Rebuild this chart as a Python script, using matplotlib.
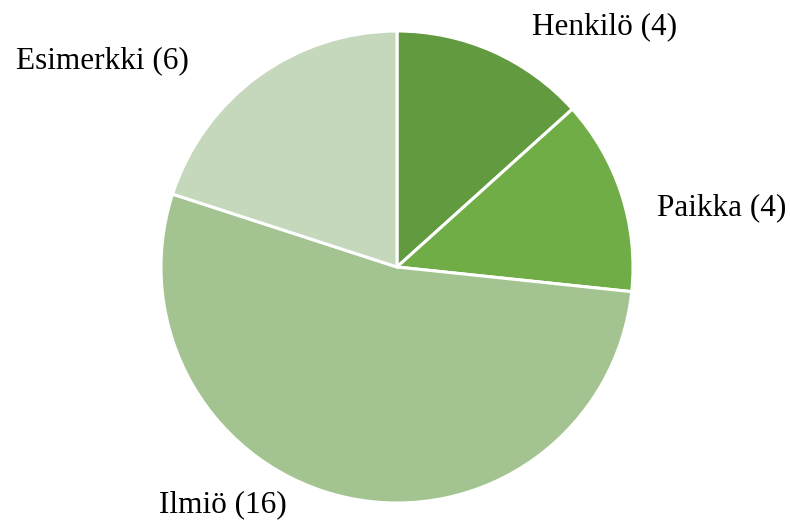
import matplotlib

matplotlib.use("Agg")
import matplotlib.pyplot as plt

categories = ["Henkilö", "Paikka", "Ilmiö", "Esimerkki"]
counts = [4, 4, 16, 6]
colors = ["#619A3F", "#70AD47", "#A3C491", "#C5D8BC"]

# label centres in figure pixels (x, y from top)
label_pos = [(605, 27), (722, 208), (223, 505), (102, 61)]

W, H = 790, 522
CX, CY, R = 397, 267, 236

plt.rcParams["font.family"] = ["Liberation Serif", "DejaVu Serif"]

fig = plt.figure(figsize=(W / 100, H / 100), dpi=100)
ax = fig.add_axes([(CX - R) / W, (H - CY - R) / H, 2 * R / W, 2 * R / H])
ax.pie(counts, colors=colors, startangle=90, counterclock=False, radius=1,
       wedgeprops=dict(edgecolor="white", linewidth=2.2))
ax.set_xlim(-1, 1)
ax.set_ylim(-1, 1)
ax.set_aspect("equal")
ax.axis("off")

for name, n, (x, y) in zip(categories, counts, label_pos):
    fig.text(x / W, 1 - y / H, f"{name} ({n})", ha="center", va="center",
             fontsize=22.5, color="black")

fig.savefig("out.png", dpi=100)
